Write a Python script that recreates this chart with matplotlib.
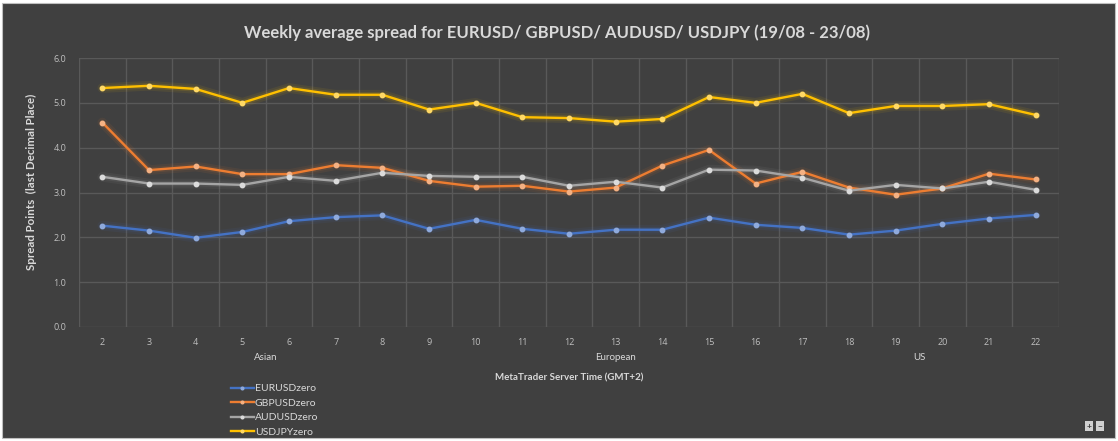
import matplotlib
matplotlib.use("Agg")
import matplotlib.pyplot as plt
from matplotlib.patches import Rectangle
import matplotlib.transforms as mtransforms

plt.rcParams['font.family'] = ['Lato', 'DejaVu Sans']

hours = list(range(2, 23))
eurusd = [2.26, 2.15, 1.99, 2.12, 2.36, 2.45, 2.49, 2.19, 2.39, 2.19, 2.08,
          2.17, 2.17, 2.44, 2.28, 2.21, 2.06, 2.15, 2.30, 2.42, 2.50]
gbpusd = [4.56, 3.50, 3.58, 3.41, 3.41, 3.61, 3.55, 3.26, 3.13, 3.15, 3.02,
          3.11, 3.60, 3.95, 3.20, 3.46, 3.11, 2.95, 3.09, 3.42, 3.29]
audusd = [3.35, 3.20, 3.20, 3.17, 3.35, 3.26, 3.44, 3.37, 3.35, 3.35, 3.15,
          3.24, 3.11, 3.51, 3.49, 3.33, 3.04, 3.17, 3.09, 3.24, 3.06]
usdjpy = [5.33, 5.38, 5.31, 5.00, 5.33, 5.18, 5.18, 4.85, 5.00, 4.68, 4.66,
          4.58, 4.64, 5.13, 5.00, 5.20, 4.77, 4.93, 4.93, 4.97, 4.73]
sessions = ["Asian", "European", "US"]
session_ranges = [(2, 9), (10, 16), (17, 22)]

BG = "#404040"
TXT = "#d9d9d9"
GRID = "#595959"

fig = plt.figure(figsize=(11.18, 4.41), dpi=100)
fig.patch.set_facecolor("white")
fig.patches.append(Rectangle((2 / 1118, 1 - 438 / 441), 1113 / 1118, 435 / 441,
                             transform=fig.transFigure, facecolor=BG,
                             edgecolor="#bfbfbf", lw=0.8, zorder=-5))

ax = fig.add_axes([79 / 1118, 1 - 327 / 441, 980 / 1118, 269 / 441])
ax.set_facecolor("none")
for s in ax.spines.values():
    s.set_visible(False)

series = [
    ("EURUSDzero", eurusd, "#4472c4", "#8faadc"),
    ("GBPUSDzero", gbpusd, "#ed7d31", "#f4b183"),
    ("AUDUSDzero", audusd, "#a5a5a5", "#dbdbdb"),
    ("USDJPYzero", usdjpy, "#ffc000", "#ffd966"),
]
for name, vals, col, mcol in series:
    # soft glow under each line
    ax.plot(hours, vals, color=col, lw=7, alpha=0.08, solid_capstyle="round", zorder=2)
    ax.plot(hours, vals, color=col, lw=4, alpha=0.12, solid_capstyle="round", zorder=2)
    ax.plot(hours, vals, color=col, lw=1.7, marker="o", markersize=3.2,
            markerfacecolor=mcol, markeredgecolor=mcol, label=name, zorder=3)

ax.set_xlim(1.5, 22.5)
ax.set_ylim(0, 6)
ax.set_yticks([0, 1, 2, 3, 4, 5, 6])
ax.set_yticklabels(["%.1f" % v for v in range(7)])
ax.set_xticks(hours)
ax.set_xticks([h + 0.5 for h in range(1, 23)], minor=True)
ax.grid(axis="y", color=GRID, lw=1)
ax.grid(axis="x", which="minor", color=GRID, lw=1)
ax.set_axisbelow(True)
ax.tick_params(axis="both", which="both", length=0, colors="#bfbfbf", labelsize=6.5)
ax.tick_params(axis="x", pad=8)
ax.tick_params(axis="y", pad=9)
for lbl in ax.get_xticklabels() + ax.get_yticklabels():
    lbl.set_family(["Open Sans", "DejaVu Sans"])

trans = mtransforms.blended_transform_factory(ax.transData, ax.transAxes)
for label, (a, b) in zip(sessions, session_ranges):
    ax.text((a + b) / 2, -0.112, label, transform=trans, ha="center", va="center",
            color=TXT, fontsize=7)

ax.text(0.5, -0.19, "MetaTrader Server Time (GMT+2)", transform=ax.transAxes,
        ha="center", va="center", color=TXT, fontsize=7, fontweight="bold")
fig.text(31 / 1118, 1 - 182 / 441, "Spread Points  (last Decimal Place)", rotation=90,
         ha="center", va="center", color=TXT, fontsize=8.3, fontweight="bold")
fig.text(557 / 1118, 1 - 33 / 441,
         "Weekly average spread for EURUSD/ GBPUSD/ AUDUSD/ USDJPY (19/08 - 23/08)",
         ha="center", va="center", color=TXT, fontsize=12, fontweight="bold")

leg = fig.legend(loc="upper left", bbox_to_anchor=(231 / 1118, 1 - 384 / 441),
                 frameon=False, fontsize=7.5, handlelength=2.2, handletextpad=0.1,
                 labelspacing=0.5, borderaxespad=0, borderpad=0, markerscale=0.6)
for t in leg.get_texts():
    t.set_color(TXT)

for i, sym in enumerate(["+", "\u2212"]):
    fig.text((1089 + i * 11) / 1118, 1 - 426 / 441, sym, ha="center", va="center",
             fontsize=6, color="#404040", fontweight="bold",
             bbox=dict(boxstyle="square,pad=0.15", fc="#d0d0d0", ec="none"))

fig.savefig("out.png", dpi=100, facecolor=fig.get_facecolor())
